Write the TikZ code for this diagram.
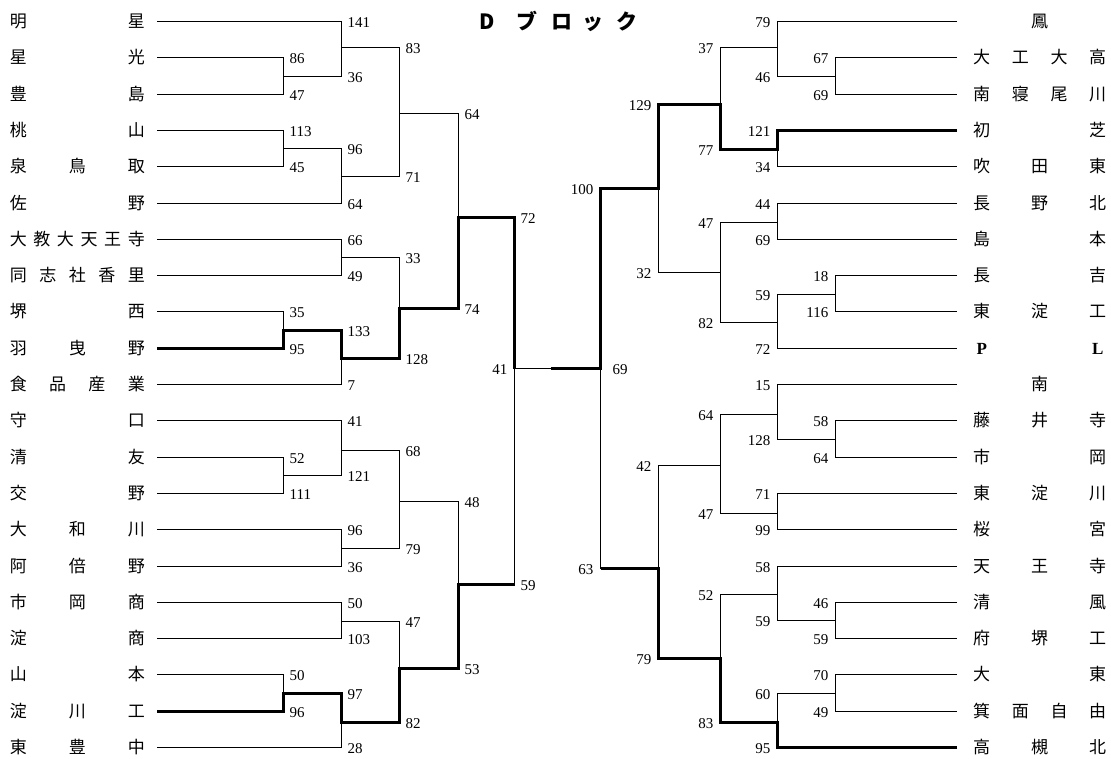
\documentclass[tikz,border=0pt]{standalone}
\usepackage{fontspec}
\setmainfont{Liberation Serif}
\newfontfamily\jp{Noto Sans CJK JP}
\newcommand\dmatch[3]{\draw[wire] (#2) -- (#1 |- #2) -- (#1 |- #3) -- (#3);}
\begin{document}
\begin{tikzpicture}[x=1pt,y=-1pt,
  wire/.style={line width=1.1pt},
  win/.style={line width=3.4pt, line join=miter},
  num/.style={font=\fontsize{15}{15}\selectfont, inner sep=0pt},
  lnum/.style={num, anchor=west, xshift=6pt, yshift=-1pt},
  rnum/.style={num, anchor=east, xshift=-7pt, yshift=-1pt},
  team/.style={font=\jp\fontsize{17}{17}\selectfont, inner sep=0pt},
  lteam/.style={team, anchor=east, xshift=-12pt},
  rteam/.style={team, anchor=west, xshift=16pt},
  ttl/.style={font=\jp\bfseries\fontsize{21}{21}\selectfont, inner sep=0pt, anchor=west}
]
\useasboundingbox (0,0) rectangle (1111,758);
\fill[white] (0,0) rectangle (1111,758);

% title
\node[ttl] (title) at (467,21) {\makebox[40pt]{D}\makebox[40pt]{ブ}\makebox[30pt]{ロ}\makebox[32pt]{ッ}\makebox[36pt]{ク}};

% left team line starts
\coordinate (l0) at (157,21.5);
\coordinate (l1) at (157,57.5);
\coordinate (l2) at (157,94.5);
\coordinate (l3) at (157,130.5);
\coordinate (l4) at (157,166.5);
\coordinate (l5) at (157,203.5);
\coordinate (l6) at (157,239.5);
\coordinate (l7) at (157,275.5);
\coordinate (l8) at (157,311.5);
\coordinate (l9) at (157,348.5);
\coordinate (l10) at (157,384.5);
\coordinate (l11) at (157,420.5);
\coordinate (l12) at (157,457.5);
\coordinate (l13) at (157,493.5);
\coordinate (l14) at (157,529.5);
\coordinate (l15) at (157,566.5);
\coordinate (l16) at (157,602.5);
\coordinate (l17) at (157,638.5);
\coordinate (l18) at (157,674.5);
\coordinate (l19) at (157,711.5);
\coordinate (l20) at (157,747.5);

% right team line ends
\coordinate (r0) at (957,21.5);
\coordinate (r1) at (957,57.5);
\coordinate (r2) at (957,94.5);
\coordinate (r3) at (957,130.5);
\coordinate (r4) at (957,166.5);
\coordinate (r5) at (957,203.5);
\coordinate (r6) at (957,239.5);
\coordinate (r7) at (957,275.5);
\coordinate (r8) at (957,311.5);
\coordinate (r9) at (957,348.5);
\coordinate (r10) at (957,384.5);
\coordinate (r11) at (957,420.5);
\coordinate (r12) at (957,457.5);
\coordinate (r13) at (957,493.5);
\coordinate (r14) at (957,529.5);
\coordinate (r15) at (957,566.5);
\coordinate (r16) at (957,602.5);
\coordinate (r17) at (957,638.5);
\coordinate (r18) at (957,674.5);
\coordinate (r19) at (957,711.5);
\coordinate (r20) at (957,747.5);

% left team names
\node[lteam] (tl0) at (l0) {\hbox to 135pt{明\hfil 星}};
\node[lteam] (tl1) at (l1) {\hbox to 135pt{星\hfil 光}};
\node[lteam] (tl2) at (l2) {\hbox to 135pt{豊\hfil 島}};
\node[lteam] (tl3) at (l3) {\hbox to 135pt{桃\hfil 山}};
\node[lteam] (tl4) at (l4) {\hbox to 135pt{泉\hfil 鳥\hfil 取}};
\node[lteam] (tl5) at (l5) {\hbox to 135pt{佐\hfil 野}};
\node[lteam] (tl6) at (l6) {\hbox to 135pt{大\hfil 教\hfil 大\hfil 天\hfil 王\hfil 寺}};
\node[lteam] (tl7) at (l7) {\hbox to 135pt{同\hfil 志\hfil 社\hfil 香\hfil 里}};
\node[lteam] (tl8) at (l8) {\hbox to 135pt{堺\hfil 西}};
\node[lteam] (tl9) at (l9) {\hbox to 135pt{羽\hfil 曳\hfil 野}};
\node[lteam] (tl10) at (l10) {\hbox to 135pt{食\hfil 品\hfil 産\hfil 業}};
\node[lteam] (tl11) at (l11) {\hbox to 135pt{守\hfil 口}};
\node[lteam] (tl12) at (l12) {\hbox to 135pt{清\hfil 友}};
\node[lteam] (tl13) at (l13) {\hbox to 135pt{交\hfil 野}};
\node[lteam] (tl14) at (l14) {\hbox to 135pt{大\hfil 和\hfil 川}};
\node[lteam] (tl15) at (l15) {\hbox to 135pt{阿\hfil 倍\hfil 野}};
\node[lteam] (tl16) at (l16) {\hbox to 135pt{市\hfil 岡\hfil 商}};
\node[lteam] (tl17) at (l17) {\hbox to 135pt{淀\hfil 商}};
\node[lteam] (tl18) at (l18) {\hbox to 135pt{山\hfil 本}};
\node[lteam] (tl19) at (l19) {\hbox to 135pt{淀\hfil 川\hfil 工}};
\node[lteam] (tl20) at (l20) {\hbox to 135pt{東\hfil 豊\hfil 中}};

% right team names
\node[rteam] (tr0) at (r0) {\hbox to 133pt{\hfil 鳳\hfil}};
\node[rteam] (tr1) at (r1) {\hbox to 133pt{大\hfil 工\hfil 大\hfil 高}};
\node[rteam] (tr2) at (r2) {\hbox to 133pt{南\hfil 寝\hfil 尾\hfil 川}};
\node[rteam] (tr3) at (r3) {\hbox to 133pt{初\hfil 芝}};
\node[rteam] (tr4) at (r4) {\hbox to 133pt{吹\hfil 田\hfil 東}};
\node[rteam] (tr5) at (r5) {\hbox to 133pt{長\hfil 野\hfil 北}};
\node[rteam] (tr6) at (r6) {\hbox to 133pt{島\hfil 本}};
\node[rteam] (tr7) at (r7) {\hbox to 133pt{長\hfil 吉}};
\node[rteam] (tr8) at (r8) {\hbox to 133pt{東\hfil 淀\hfil 工}};
\node[rteam] (tr9) at (r9) {\hbox to 133pt{\makebox[17pt]{\normalfont\bfseries P}\hfil\makebox[17pt]{\normalfont\bfseries L}}};
\node[rteam] (tr10) at (r10) {\hbox to 133pt{\hfil 南\hfil}};
\node[rteam] (tr11) at (r11) {\hbox to 133pt{藤\hfil 井\hfil 寺}};
\node[rteam] (tr12) at (r12) {\hbox to 133pt{市\hfil 岡}};
\node[rteam] (tr13) at (r13) {\hbox to 133pt{東\hfil 淀\hfil 川}};
\node[rteam] (tr14) at (r14) {\hbox to 133pt{桜\hfil 宮}};
\node[rteam] (tr15) at (r15) {\hbox to 133pt{天\hfil 王\hfil 寺}};
\node[rteam] (tr16) at (r16) {\hbox to 133pt{清\hfil 風}};
\node[rteam] (tr17) at (r17) {\hbox to 133pt{府\hfil 堺\hfil 工}};
\node[rteam] (tr18) at (r18) {\hbox to 133pt{大\hfil 東}};
\node[rteam] (tr19) at (r19) {\hbox to 133pt{箕\hfil 面\hfil 自\hfil 由}};
\node[rteam] (tr20) at (r20) {\hbox to 133pt{高\hfil 槻\hfil 北}};

% left junctions
\coordinate (A) at (283.5,76.5);
\coordinate (C) at (283.5,148.5);
\coordinate (G) at (283.5,330.5);
\coordinate (K) at (283.5,475.5);
\coordinate (P) at (283.5,693.5);
\coordinate (B) at (341.5,47.5);
\coordinate (D) at (341.5,176.5);
\coordinate (F) at (341.5,257.5);
\coordinate (H) at (341.5,358.5);
\coordinate (L) at (341.5,450.5);
\coordinate (M) at (341.5,548.5);
\coordinate (O) at (341.5,621.5);
\coordinate (Q) at (341.5,722.5);
\coordinate (E) at (399.5,113.5);
\coordinate (I) at (399.5,308.5);
\coordinate (N) at (399.5,501.5);
\coordinate (R) at (399.5,668.5);
\coordinate (J) at (458.5,217.5);
\coordinate (S) at (458.5,584.5);
\coordinate (FL) at (514.5,368.5);

% right junctions
\coordinate (xa) at (835.5,76.5);
\coordinate (xf) at (835.5,294.5);
\coordinate (xj) at (835.5,439.5);
\coordinate (xn) at (835.5,620.5);
\coordinate (xp) at (835.5,693.5);
\coordinate (xb) at (777.5,47.5);
\coordinate (xc) at (777.5,149.5);
\coordinate (xe) at (777.5,222.5);
\coordinate (xg) at (777.5,322.5);
\coordinate (xk) at (777.5,414.5);
\coordinate (xl) at (777.5,513.5);
\coordinate (xo) at (777.5,594.5);
\coordinate (xq) at (777.5,722.5);
\coordinate (xd) at (720.5,104.5);
\coordinate (xh) at (720.5,272.5);
\coordinate (xm) at (720.5,465.5);
\coordinate (xr) at (720.5,658.5);
\coordinate (xi) at (658.5,188.5);
\coordinate (xs) at (658.5,568.5);
\coordinate (FR) at (600.5,368.5);
\coordinate (mid) at (550.5,368.5);

% left bracket
\dmatch{A}{l1}{l2}
\dmatch{C}{l3}{l4}
\dmatch{G}{l8}{l9}
\dmatch{K}{l12}{l13}
\dmatch{P}{l18}{l19}
\dmatch{B}{l0}{A}
\dmatch{D}{C}{l5}
\dmatch{F}{l6}{l7}
\dmatch{H}{G}{l10}
\dmatch{L}{l11}{K}
\dmatch{M}{l14}{l15}
\dmatch{O}{l16}{l17}
\dmatch{Q}{P}{l20}
\dmatch{E}{B}{D}
\dmatch{I}{F}{H}
\dmatch{N}{L}{M}
\dmatch{R}{O}{Q}
\dmatch{J}{E}{I}
\dmatch{S}{N}{R}
\dmatch{FL}{J}{S}

% right bracket
\dmatch{xa}{r1}{r2}
\dmatch{xf}{r7}{r8}
\dmatch{xj}{r11}{r12}
\dmatch{xn}{r16}{r17}
\dmatch{xp}{r18}{r19}
\dmatch{xb}{r0}{xa}
\dmatch{xc}{r3}{r4}
\dmatch{xe}{r5}{r6}
\dmatch{xg}{xf}{r9}
\dmatch{xk}{r10}{xj}
\dmatch{xl}{r13}{r14}
\dmatch{xo}{r15}{xn}
\dmatch{xq}{xp}{r20}
\dmatch{xd}{xb}{xc}
\dmatch{xh}{xe}{xg}
\dmatch{xm}{xk}{xl}
\dmatch{xr}{xo}{xq}
\dmatch{xi}{xd}{xh}
\dmatch{xs}{xm}{xr}
\dmatch{FR}{xi}{xs}
\draw[wire] (FL) -- (FR);

% winners' paths
\draw[win] (l9) -- (G |- l9) -- (G) -- (H |- G) -- (H) -- (I |- H) -- (I) -- (J |- I) -- (J) -- (FL |- J) -- (FL);
\draw[win] (l19) -- (P |- l19) -- (P) -- (Q |- P) -- (Q) -- (R |- Q) -- (R) -- (S |- R) -- (S) -- (FL |- S);
\draw[win] (r3) -- (xc |- r3) -- (xc) -- (xd |- xc) -- (xd) -- (xi |- xd) -- (xi) -- (FR |- xi) -- (FR) -- (mid);
\draw[win] (r20) -- (xq |- r20) -- (xq) -- (xr |- xq) -- (xr) -- (xs |- xr) -- (xs) -- (FR |- xs);

% left scores
\node[lnum] at (A|-l1) {86};
\node[lnum] at (A|-l2) {47};
\node[lnum] at (C|-l3) {113};
\node[lnum] at (C|-l4) {45};
\node[lnum] at (G|-l8) {35};
\node[lnum] at (G|-l9) {95};
\node[lnum] at (K|-l12) {52};
\node[lnum] at (K|-l13) {111};
\node[lnum] at (P|-l18) {50};
\node[lnum] at (P|-l19) {96};
\node[lnum] at (B|-l0) {141};
\node[lnum] at (B|-A) {36};
\node[lnum] at (D|-C) {96};
\node[lnum] at (D|-l5) {64};
\node[lnum] at (F|-l6) {66};
\node[lnum] at (F|-l7) {49};
\node[lnum] at (H|-G) {133};
\node[lnum] at (H|-l10) {7};
\node[lnum] at (L|-l11) {41};
\node[lnum] at (L|-K) {121};
\node[lnum] at (M|-l14) {96};
\node[lnum] at (M|-l15) {36};
\node[lnum] at (O|-l16) {50};
\node[lnum] at (O|-l17) {103};
\node[lnum] at (Q|-P) {97};
\node[lnum] at (Q|-l20) {28};
\node[lnum] at (E|-B) {83};
\node[lnum] at (E|-D) {71};
\node[lnum] at (I|-F) {33};
\node[lnum] at (I|-H) {128};
\node[lnum] at (N|-L) {68};
\node[lnum] at (N|-M) {79};
\node[lnum] at (R|-O) {47};
\node[lnum] at (R|-Q) {82};
\node[lnum] at (J|-E) {64};
\node[lnum] at (J|-I) {74};
\node[lnum] at (S|-N) {48};
\node[lnum] at (S|-R) {53};
\node[lnum] at (FL|-J) {72};
\node[lnum] at (FL|-S) {59};
\node[rnum] at (FL) {41};

% right scores
\node[rnum] at (xa|-r1) {67};
\node[rnum] at (xa|-r2) {69};
\node[rnum] at (xf|-r7) {18};
\node[rnum] at (xf|-r8) {116};
\node[rnum] at (xj|-r11) {58};
\node[rnum] at (xj|-r12) {64};
\node[rnum] at (xn|-r16) {46};
\node[rnum] at (xn|-r17) {59};
\node[rnum] at (xp|-r18) {70};
\node[rnum] at (xp|-r19) {49};
\node[rnum] at (xb|-r0) {79};
\node[rnum] at (xb|-xa) {46};
\node[rnum] at (xc|-r3) {121};
\node[rnum] at (xc|-r4) {34};
\node[rnum] at (xe|-r5) {44};
\node[rnum] at (xe|-r6) {69};
\node[rnum] at (xg|-xf) {59};
\node[rnum] at (xg|-r9) {72};
\node[rnum] at (xk|-r10) {15};
\node[rnum] at (xk|-xj) {128};
\node[rnum] at (xl|-r13) {71};
\node[rnum] at (xl|-r14) {99};
\node[rnum] at (xo|-r15) {58};
\node[rnum] at (xo|-xn) {59};
\node[rnum] at (xq|-xp) {60};
\node[rnum] at (xq|-r20) {95};
\node[rnum] at (xd|-xb) {37};
\node[rnum] at (xd|-xc) {77};
\node[rnum] at (xh|-xe) {47};
\node[rnum] at (xh|-xg) {82};
\node[rnum] at (xm|-xk) {64};
\node[rnum] at (xm|-xl) {47};
\node[rnum] at (xr|-xo) {52};
\node[rnum] at (xr|-xq) {83};
\node[rnum] at (xi|-xd) {129};
\node[rnum] at (xi|-xh) {32};
\node[rnum] at (xs|-xm) {42};
\node[rnum] at (xs|-xr) {79};
\node[rnum] at (FR|-xi) {100};
\node[rnum] at (FR|-xs) {63};
\node[lnum, xshift=6pt] at (FR) {69};
\end{tikzpicture}
\end{document}
